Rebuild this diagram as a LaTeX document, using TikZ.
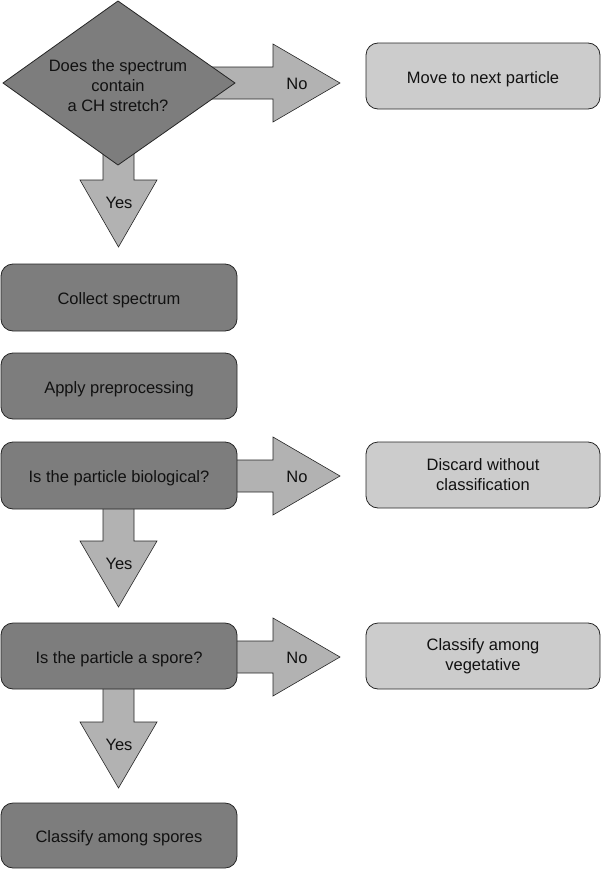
\documentclass[tikz,border=0pt]{standalone}
\usepackage{fontspec}
\setmainfont{Liberation Sans}
\definecolor{darkbox}{HTML}{7D7D7D}
\definecolor{lightbox}{HTML}{CCCCCC}
\definecolor{arrowfill}{HTML}{B2B2B2}
\definecolor{txt}{HTML}{111111}
\begin{document}
\begin{tikzpicture}[x=1pt,y=-1pt,
  every node/.style={font=\fontsize{16.5}{20}\selectfont, text=txt, align=center},
  oneline/.style={text height=14.5pt, text depth=0pt},
  arrowlabel/.style={text height=12pt, text depth=0pt},
  darkrect/.style={draw=black!85, line width=0.8pt, fill=darkbox, rounded corners=12pt, minimum width=236pt, inner sep=0pt, oneline},
  lightrect/.style={draw=black!85, line width=0.8pt, fill=lightbox, rounded corners=12pt, minimum width=234pt, minimum height=66pt, inner sep=0pt},
  blockarrow/.style={draw=black!85, line width=0.6pt, fill=arrowfill, line join=miter},
  diamondshape/.style={draw=black!85, line width=0.8pt, fill=darkbox}]
\useasboundingbox (0,0) rectangle (601,870);

% ---- block arrows (drawn first, shafts pass behind the boxes) ----
% right arrow 1
\path[blockarrow] (200,67) -- (273,67) -- (273,44) -- (340,83) -- (273,122) -- (273,99) -- (200,99) -- cycle;
% down arrow 1
\path[blockarrow] (103,150) -- (103,180) -- (80,180) -- (118.5,247) -- (157,180) -- (134,180) -- (134,150) -- cycle;
% right arrow 2
\path[blockarrow] (220,460) -- (273,460) -- (273,437) -- (340,476) -- (273,515) -- (273,492) -- (220,492) -- cycle;
% down arrow 2
\path[blockarrow] (103,495) -- (103,541) -- (80,541) -- (118.5,607) -- (157,541) -- (134,541) -- (134,495) -- cycle;
% right arrow 3
\path[blockarrow] (220,641) -- (273,641) -- (273,618) -- (340,657) -- (273,696) -- (273,673) -- (220,673) -- cycle;
% down arrow 3
\path[blockarrow] (103,675) -- (103,722) -- (80,722) -- (118.5,788) -- (157,722) -- (134,722) -- (134,675) -- cycle;

% ---- decision diamond ----
\path[diamondshape] (118,1) -- (235,83) -- (118,165) -- (3,83) -- cycle;
\node (q1) at (118,86) {Does the spectrum\\contain\\a CH stretch?};

% ---- process boxes ----
\node[darkrect, minimum height=67pt] (collect) at (119,297.5) {Collect spectrum};
\node[darkrect, minimum height=66pt] (prep) at (119,386) {Apply preprocessing};
\node[darkrect, minimum height=67pt] (bio) at (119,475.5) {Is the particle biological?};
\node[darkrect, minimum height=66pt] (spore) at (119,656) {Is the particle a spore?};
\node[darkrect, minimum height=65pt] (spores) at (119,835.5) {Classify among spores};

\node[lightrect, oneline] (next) at (483,76) {Move to next particle};
\node[lightrect] (discard) at (483,475) {\fontsize{16.5}{19.5}\selectfont Discard without\\classification};
\node[lightrect] (veg) at (483,656) {\fontsize{16.5}{19.5}\selectfont Classify among\\vegetative};

% ---- arrow labels ----
\node[arrowlabel] (no1) at (297,83) {No};
\node[arrowlabel] (yes1) at (119,202) {Yes};
\node[arrowlabel] (no2) at (297,476) {No};
\node[arrowlabel] (yes2) at (119,563) {Yes};
\node[arrowlabel] (no3) at (297,657) {No};
\node[arrowlabel] (yes3) at (119,744) {Yes};
\end{tikzpicture}
\end{document}
